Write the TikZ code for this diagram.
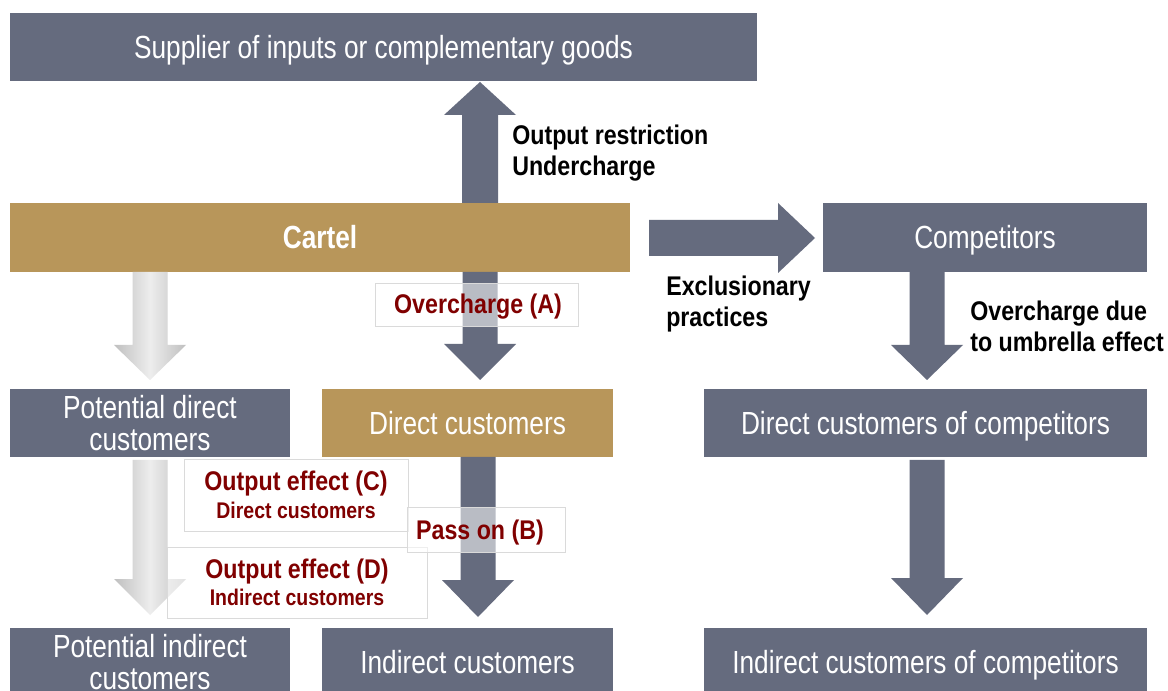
\documentclass[tikz,border=0pt]{standalone}
\usepackage{fontspec}
\setmainfont{Liberation Sans}
\newfontfamily\nf[FakeStretch=0.82]{Liberation Sans}
\newfontfamily\lf[FakeStretch=0.86]{Liberation Sans}
\usetikzlibrary{calc}
\definecolor{slate}{RGB}{101,107,126}
\definecolor{gold}{RGB}{184,150,90}
\definecolor{dred}{RGB}{128,0,0}
\definecolor{lblline}{RGB}{218,218,218}
% down block arrow: #1 style, #2 cx, #3 top, #4 head base, #5 tip
\newcommand\blkdown[5]{\path[#1] (#2-17.5,#3) -- (#2+17.5,#3) -- (#2+17.5,#4) -- (#2+36,#4) -- (#2,#5) -- (#2-36,#4) -- (#2-17.5,#4) -- cycle;}
\begin{document}
\begin{tikzpicture}[x=0.75pt,y=-0.75pt,
  box/.style={inner sep=0pt, text=white, align=center, font=\nf\fontsize{24}{25}\selectfont},
  oneline/.style={text height=#1, text depth=0pt},
  lbl/.style={inner sep=0pt, align=left, text=black, font=\lf\bfseries\fontsize{20.25}{23.25}\selectfont},
  rlbl/.style={inner sep=0pt, oneline=14.5pt, text=dred, font=\lf\bfseries\fontsize{20.25}{23}\selectfont},
  rsub/.style={inner sep=0pt, oneline=12.2pt, text=dred, font=\lf\bfseries\fontsize{17}{20}\selectfont},
  lbox/.style={inner sep=0pt, draw=lblline, line width=0.6pt, fill=white, fill opacity=0.55},
  solidarr/.style={fill=slate},
  dotarr/.style={left color=gray!50, right color=gray!50, middle color=gray!14}]
\useasboundingbox (0,0) rectangle (1168,691);
\clip (0,0) rectangle (1168,691);
\fill[white] (0,0) rectangle (1168,691);

% boxes
\node[box, oneline=17.2pt, fill=slate, minimum width=560.25pt, minimum height=51pt] (supplier) at (383.5,47) {Supplier of inputs or complementary goods};
\node[box, oneline=17.2pt, fill=gold, minimum width=465pt, minimum height=51.75pt, font=\nf\bfseries\fontsize{24}{25}\selectfont] (cartel) at (320,237.5) {Cartel};
\node[box, oneline=17.2pt, fill=slate, minimum width=243pt, minimum height=51.75pt] (comp) at (985,237.5) {Competitors};
\node[box, fill=slate, minimum width=210pt, minimum height=51pt] (pdc) at (150,423) {Potential direct\\[-1pt]customers};
\node[box, oneline=17.2pt, fill=gold, minimum width=218.25pt, minimum height=51pt] (dc) at (467.5,423) {Direct customers};
\node[box, oneline=17.2pt, fill=slate, minimum width=332.25pt, minimum height=51pt] (dcc) at (925.5,423) {Direct customers of competitors};
\node[box, fill=slate, minimum width=210pt, minimum height=51pt] (pic) at (150,662) {Potential indirect\\[-1pt]customers};
\node[box, oneline=17.2pt, fill=slate, minimum width=218.25pt, minimum height=51pt] (ic) at (467.5,662) {Indirect customers};
\node[box, oneline=17.2pt, fill=slate, minimum width=332.25pt, minimum height=51pt] (icc) at (925.5,662) {Indirect customers of competitors};

% arrows
\path[solidarr] (462,203) -- (462,115) -- (444,115) -- (480,82) -- (516,115) -- (498,115) -- (498,203) -- cycle;
\path[solidarr] (649,220) -- (778,220) -- (778,203) -- (815,238) -- (778,273) -- (778,256) -- (649,256) -- cycle;
\blkdown{solidarr}{480}{272}{344}{380}
\blkdown{solidarr}{478}{457}{580}{617}
\blkdown{solidarr}{927}{272}{345}{380}
\blkdown{solidarr}{927}{460}{578}{615}
\blkdown{shade, dotarr}{150}{272}{345}{380}
\blkdown{shade, dotarr}{150}{460}{579}{615}

% black labels
\node[lbl, anchor=west] (outres) at (512,153) {Output restriction\\Undercharge};
\node[lbl, anchor=west] (excl) at (666,304) {Exclusionary\\practices};
\node[lbl, anchor=west] (umb) at (970,326) {Overcharge due\\to umbrella effect};

% red label boxes
\node[lbox, minimum width=152.25pt, minimum height=32.25pt] (obox) at (476.5,304.5) {};
\node[rlbl] (olab) at (478,304) {Overcharge (A)};
\node[lbox, minimum width=168pt, minimum height=54pt] (cbox) at (296,495) {};
\node[lbox, minimum width=195pt, minimum height=53.25pt] (dbox) at (297,582.5) {};
\node[lbox, minimum width=118.5pt, minimum height=33.75pt] (pbox) at (486,529.5) {};
\node[rlbl] (clab) at (296,481) {Output effect (C)};
\node[rsub] (csub) at (296,510) {Direct customers};
\node[rlbl] (dlab) at (297,569) {Output effect (D)};
\node[rsub] (dsub) at (297,597) {Indirect customers};
\node[rlbl] (plab) at (480,530) {Pass on (B)};
\end{tikzpicture}
\end{document}
